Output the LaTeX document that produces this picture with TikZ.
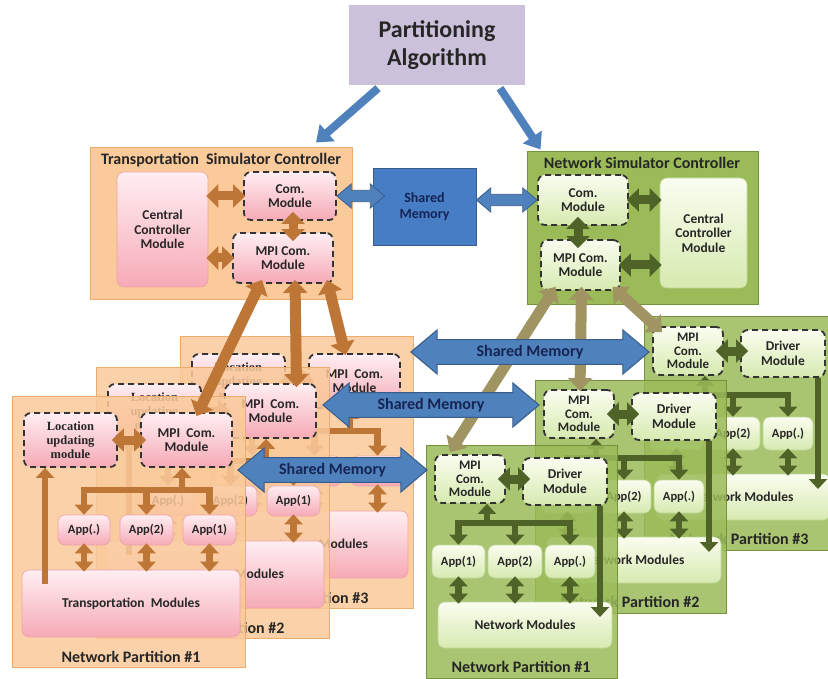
\documentclass[tikz,border=0pt]{standalone}
\usepackage{fontspec}
\setmainfont{Carlito}
\newfontfamily\serifbf{Liberation Serif}
\usetikzlibrary{arrows.meta,shapes.arrows,calc}

\definecolor{lav}{RGB}{204,193,218}
\definecolor{bluef}{RGB}{79,129,189}
\definecolor{blued}{RGB}{56,93,138}
\definecolor{smbox}{RGB}{70,125,196}
\definecolor{navy}{RGB}{22,36,84}
\definecolor{orf}{RGB}{250,202,155}
\definecolor{ord}{RGB}{236,172,112}
\definecolor{pinkt}{RGB}{255,238,242}
\definecolor{pinkb}{RGB}{246,170,182}
\definecolor{pinkd}{RGB}{236,165,165}
\definecolor{brn}{RGB}{190,118,55}
\definecolor{grf}{RGB}{155,187,89}
\definecolor{grd}{RGB}{118,146,60}
\definecolor{lgt}{RGB}{250,253,240}
\definecolor{lgb}{RGB}{214,234,176}
\definecolor{lgd}{RGB}{190,214,150}
\definecolor{dgr}{RGB}{79,98,40}
\definecolor{khaki}{RGB}{160,148,98}

\newcommand\mk[7]{\node[#1, minimum width={(#5)-(#3)}, minimum height={(#6)-(#4)}] (#2) at ({((#3)+(#5))/2},{((#4)+(#6))/2}) {#7};}

\tikzset{
 txt/.style={inner sep=0pt, align=center, text=black!85},
 modfont/.style={font=\bfseries\fontsize{13.5}{14.5}\selectfont},
 appfont/.style={font=\bfseries\fontsize{12.5}{14}\selectfont},
 labfont/.style={font=\bfseries\fontsize{16}{18}\selectfont, text=black!85, inner sep=0pt},
 tpartbox/.style={draw=ord, fill=orf, fill opacity=.85, line width=1pt, inner sep=0pt},
 gpartbox/.style={draw=grd, fill=grf, fill opacity=.85, line width=1pt, inner sep=0pt},
 pmod/.style={txt, rounded corners=7pt, top color=pinkt, bottom color=pinkb, draw=pinkd, line width=.6pt},
 pdash/.style={pmod, draw=black!80, line width=1.8pt, dash pattern=on 6pt off 4pt},
 gmod/.style={txt, rounded corners=7pt, top color=lgt, bottom color=lgb, draw=lgd, line width=.6pt},
 gdash/.style={gmod, draw=black!80, line width=1.8pt, dash pattern=on 6pt off 4pt},
 brboth/.style={draw=brn, line width=9pt, {Triangle[width=23pt,length=12pt]}-{Triangle[width=23pt,length=12pt]}},
 brsm/.style={draw=brn, line width=6.5pt, {Triangle[width=18pt,length=10pt]}-{Triangle[width=18pt,length=10pt]}},
 brsmtip/.style={draw=brn, line width=6.5pt, -{Triangle[width=18pt,length=10pt]}},
 brbig/.style={draw=brn, line width=11pt, {Triangle[width=24pt,length=13pt]}-{Triangle[width=24pt,length=13pt]}},
 dgboth/.style={draw=dgr, line width=9pt, {Triangle[width=23pt,length=12pt]}-{Triangle[width=23pt,length=12pt]}},
 dgsm/.style={draw=dgr, line width=6.5pt, {Triangle[width=18pt,length=10pt]}-{Triangle[width=18pt,length=10pt]}},
 dgsmtip/.style={draw=dgr, line width=6.5pt, -{Triangle[width=18pt,length=10pt]}},
 khbig/.style={draw=khaki, line width=11pt, {Triangle[width=24pt,length=13pt]}-{Triangle[width=24pt,length=13pt]}},
 smarrow/.style={double arrow, draw=blued, fill=bluef, line width=1pt, double arrow head extend=9pt, double arrow tip angle=80, inner sep=4pt, minimum width=44pt, font=\bfseries\fontsize{16}{18}\selectfont, text=navy},
 smsmall/.style={double arrow, draw=blued, fill=bluef, line width=.8pt, double arrow head extend=6pt, double arrow tip angle=80, inner sep=5pt, minimum width=24pt},
 paarrow/.style={draw=bluef, line width=8pt, -{Triangle[width=22pt,length=15pt]}},
}

\newcommand\TPart[3]{%
\begin{scope}[shift={(#2)}]
\mk{tpartbox}{tp#1}{0}{0}{233}{271}{}
\mk{pdash,font=\serifbf\bfseries\fontsize{12.5}{14}\selectfont}{tloc#1}{12}{17}{105}{71}{Location\\updating\\module}
\mk{pdash,modfont}{tmpi#1}{129}{17}{220}{71}{MPI\ \ Com.\\Module}
\mk{pmod,appfont}{tappa#1}{46}{119}{98}{149}{App(.)}
\mk{pmod,appfont}{tappb#1}{108}{119}{161}{149}{App(2)}
\mk{pmod,appfont}{tappc#1}{171}{119}{224}{149}{App(1)}
\mk{pmod,modfont}{ttm#1}{10}{174}{228}{241}{Transportation\ \ Modules}
\node[labfont] (tlab#1) at (119,261) {Network Partition \##3};
\coordinate (tj#1) at (170,94);
\coordinate (tla#1) at (33,188);
\draw[brboth] ($(tloc#1.east)+(-6,0)$) -- ($(tmpi#1.west)+(6,0)$);
\draw[brsmtip] (tj#1) -- (tj#1 |- tmpi#1.south);
\draw[brsm, line join=miter] (tappa#1.north) -- (tappa#1.north |- tj#1) -- (tappc#1.north |- tj#1) -- (tappc#1.north);
\draw[brsmtip] (tappb#1.north |- tj#1) -- (tappb#1.north);
\draw[brsm] ($(tappa#1.south)+(0,-2)$) -- ($(tappa#1.south |- ttm#1.north)+(0,2)$);
\draw[brsm] ($(tappb#1.south)+(0,-2)$) -- ($(tappb#1.south |- ttm#1.north)+(0,2)$);
\draw[brsm] ($(tappc#1.south)+(0,-2)$) -- ($(tappc#1.south |- ttm#1.north)+(0,2)$);
\draw[brsmtip] (tla#1) -- (tla#1 |- tloc#1.south);
\end{scope}}

\newcommand\NPart[3]{%
\begin{scope}[shift={(#2)}]
\mk{gpartbox}{np#1}{0}{0}{191}{233}{}
\mk{gdash,font=\bfseries\fontsize{13}{13.5}\selectfont}{nmpi#1}{9}{10}{79}{58}{MPI\\Com.\\Module}
\mk{gdash,modfont}{ndrv#1}{97}{13}{181}{60}{Driver\\Module}
\mk{gmod,appfont}{nappa#1}{6}{100}{59}{133}{App(1)}
\mk{gmod,appfont}{nappb#1}{62}{100}{116}{133}{App(2)}
\mk{gmod,appfont}{nappc#1}{119}{100}{169}{133}{App(.)}
\mk{gmod,modfont}{nnm#1}{12}{157}{186}{203}{Network Modules}
\node[labfont] (nlab#1) at (95,222) {Network Partition \##3};
\coordinate (nj#1) at (61,78);
\coordinate (nda#1) at (174,172);
\draw[dgboth] ($(nmpi#1.east)+(-8,0)$) -- ($(ndrv#1.west |- nmpi#1.east)+(8,0)$);
\draw[dgsmtip] (nj#1) -- (nj#1 |- nmpi#1.south);
\draw[dgsm, line join=miter] (nappa#1.north) -- (nappa#1.north |- nj#1) -- (nappc#1.north |- nj#1) -- (nappc#1.north);
\draw[dgsmtip] (nappb#1.north |- nj#1) -- (nappb#1.north);
\draw[dgsm] ($(nappa#1.south)+(0,-2)$) -- ($(nappa#1.south |- nnm#1.north)+(0,2)$);
\draw[dgsm] ($(nappb#1.south)+(0,-2)$) -- ($(nappb#1.south |- nnm#1.north)+(0,2)$);
\draw[dgsm] ($(nappc#1.south)+(0,-2)$) -- ($(nappc#1.south |- nnm#1.north)+(0,2)$);
\draw[dgsmtip] (nda#1 |- ndrv#1.south) -- (nda#1);
\end{scope}}

\begin{document}
\begin{tikzpicture}[x=1pt,y=-1pt]
\useasboundingbox (0,0) rectangle (828,679);
\clip (0,0) rectangle (828,679);
\fill[white] (0,0) rectangle (828,679);

% Partitioning algorithm
\mk{txt,fill=lav,font=\bfseries\fontsize{24}{28}\selectfont}{pa}{349}{5}{525}{85}{Partitioning\\Algorithm}

% Transportation simulator controller
\mk{draw=ord,fill=orf,line width=1pt,inner sep=0pt}{tsc}{90}{148}{352}{300}{}
\node[labfont] (tsct) at (221,160) {Transportation\ \ Simulator Controller};
\mk{pmod,modfont}{tccm}{117}{172}{208}{287}{Central\\Controller\\Module}
\mk{pdash,modfont}{tcom}{244}{172}{336}{220}{Com.\\Module}
\mk{pdash,modfont}{tcmpi}{233}{233}{333}{283}{MPI Com.\\Module}
\draw[brboth] ($(tccm.east |- tcom)+(-2,0)$) -- ($(tcom.west)+(2,0)$);
\draw[brboth] ($(tccm.east |- tcmpi)+(-2,0)$) -- ($(tcmpi.west)+(2,0)$);
\draw[brboth] ($(tcom.south)+(3,-9)$) -- ($(tcmpi.north)+(10,9)$);

% Shared memory box
\mk{txt,fill=smbox,draw=blued,line width=.8pt,text=navy,font=\bfseries\fontsize{14}{16}\selectfont}{smb}{373}{168}{476}{245}{Shared\\Memory}

% Network simulator controller
\mk{draw=grd,fill=grf,line width=1pt,inner sep=0pt}{nsc}{527}{152}{758}{305}{}
\node[labfont] (nsct) at (642,163) {Network Simulator Controller};
\mk{gdash,modfont}{ncom}{538}{175}{628}{225}{Com.\\Module}
\mk{gdash,modfont}{nmpi}{541}{240}{620}{290}{MPI Com.\\Module}
\mk{gmod,modfont}{nccm}{660}{178}{747}{288}{Central\\Controller\\Module}
\draw[dgboth] ($(ncom.east)+(-2,0)$) -- ($(nccm.west |- ncom.east)+(2,0)$);
\draw[dgboth] ($(nmpi.east)+(-2,0)$) -- ($(nccm.west |- nmpi.east)+(2,0)$);
\draw[dgboth] ($(ncom.south)+(-5,-9)$) -- ($(nmpi.north)+(-2.5,9)$);

% blue arrows from partitioning algorithm
\draw[paarrow] ($(pa.south)+(-59,3)$) -- ($(tsc.north)+(95,-5)$);
\draw[paarrow] ($(pa.south)+(63,3)$) -- ($(nsc.north)+(-102,-2)$);

% small shared-memory arrows
\path let \p1=(tcom.east), \p2=($(smb.west)+(12,0)$) in node[smsmall, minimum height=\x2-\x1] (sba) at ({(\x1+\x2)/2},\y1) {};
\path let \p1=(smb.east), \p2=(ncom.west) in node[smsmall, minimum height=\x2-\x1] (sbb) at ({(\x1+\x2)/2},\y2) {};

% partitions
\TPart{3}{180,337}{3}
\TPart{2}{96,367}{2}
\TPart{1}{12,396}{1}
\NPart{3}{644,317}{3}
\NPart{2}{535,380}{2}
\NPart{1}{426,445}{1}

% controller to partitions
\draw[brbig] ($(tcmpi.south)+(-21,-4)$) -- ($(tmpi1.north)+(10,4)$);
\draw[brbig] ($(tcmpi.south)+(12,-4)$) -- ($(tmpi2.north)+(26,4)$);
\draw[brbig] ($(tcmpi.south)+(44,-4)$) -- ($(tmpi3.north)+(-9,2)$);
\draw[khbig] ($(nmpi.south)+(-25,-4)$) -- ($(nmpi1.north)+(-20,-2)$);
\draw[khbig] ($(nmpi.south)+(1,-4)$) -- ($(nmpi2.north)+(1,2)$);
\draw[khbig] ($(nmpi.south)+(32,-4)$) -- ($(nmpi3.north)+(-26,6)$);

% shared memory arrows between partitions
\path let \p1=($(tmpi3.east)+(10,0)$), \p2=($(nmpi3.west)+(-3,0)$), \p3=(0,352) in node[smarrow, minimum height=\x2-\x1] (smA) at ({(\x1+\x2)/2},\y3) {Shared Memory};
\path let \p1=($(tmpi2.east)+(6,0)$), \p2=($(nmpi2.west)+(-4,0)$), \p3=(0,405) in node[smarrow, minimum height=\x2-\x1] (smB) at ({(\x1+\x2)/2},\y3) {Shared Memory};
\path let \p1=($(tmpi1.east)+(5,0)$), \p2=($(nmpi1.west)+(-7,0)$), \p3=(0,470) in node[smarrow, minimum height=\x2-\x1] (smC) at ({(\x1+\x2)/2},\y3) {Shared Memory};
\end{tikzpicture}
\end{document}
